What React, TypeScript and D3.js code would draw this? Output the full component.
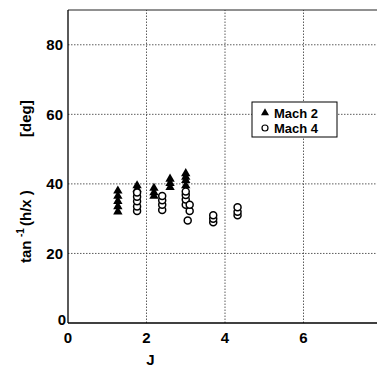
import React from "react";
import * as d3 from "d3";

const mach2J = [1.27, 1.27, 1.27, 1.27, 1.27, 1.76, 1.76, 2.19, 2.19, 2.19, 2.6, 2.6, 2.6, 3.0, 3.0, 3.0, 3.0];
const mach2V = [32, 33.5, 35, 36.5, 38, 38.5, 39.5, 36.5, 37.5, 38.8, 39, 40.2, 41.4, 39.5, 41, 42, 43];

const mach4J = [1.76, 1.76, 1.76, 1.76, 1.76, 2.4, 2.4, 2.4, 2.4, 3.0, 3.0, 3.0, 3.0, 3.1, 3.1, 3.05, 3.7, 3.7, 3.7, 4.32, 4.32, 4.32];
const mach4V = [32.2, 33.5, 35, 36.3, 37.5, 32.5, 34, 35.3, 36.5, 34, 35.5, 36.8, 37.8, 32.2, 34, 29.5, 29, 30, 31, 31, 32, 33.3];

const xTicks = [0, 2, 4, 6];
const yTicks = [0, 20, 40, 60, 80];
const legendLabels = ["Mach 2", "Mach 4"];

export default function App() {
  const W = 377, H = 370;
  const x = d3.scaleLinear().domain([0, 8]).range([68, 382]);
  const y = d3.scaleLinear().domain([0, 90]).range([323, 10]);
  const font = "'Liberation Sans', Arial, sans-serif";
  const tri = d3.symbol().type(d3.symbolTriangle).size(38)() as string;

  return (
    <svg width={W} height={H} style={{ position: "absolute", left: 0, top: 0, background: "#fff" }} fontFamily={font}>
      <rect width={W} height={H} fill="#fff" />
      {/* grid */}
      {xTicks.filter(t => t > 0).map(t => (
        <line key={"gx" + t} x1={x(t)} x2={x(t)} y1={y(0)} y2={y(90)} stroke="#333" strokeWidth={0.8} strokeDasharray="1.5,1.5" />
      ))}
      {yTicks.filter(t => t > 0).map(t => (
        <line key={"gy" + t} x1={x(0)} x2={x(8)} y1={y(t)} y2={y(t)} stroke="#333" strokeWidth={0.8} strokeDasharray="1.5,1.5" />
      ))}
      <line x1={x(0)} x2={x(8)} y1={y(90)} y2={y(90)} stroke="#222" strokeWidth={1} />
      {/* axes */}
      <line x1={x(0)} x2={x(0)} y1={y(0)} y2={y(90)} stroke="#000" strokeWidth={1.3} />
      <line x1={x(0)} x2={x(8)} y1={y(0)} y2={y(0)} stroke="#000" strokeWidth={1.3} />
      {/* tick labels */}
      {yTicks.map(t => (
        <text key={"ty" + t} x={t === 0 ? 66 : 63} y={y(t) + (t === 0 ? 2 : 5.5)} textAnchor="end" fontSize={15} fontWeight="bold">{t}</text>
      ))}
      {xTicks.map(t => (
        <text key={"tx" + t} x={x(t)} y={343} textAnchor="middle" fontSize={15} fontWeight="bold">{t}</text>
      ))}
      <text x={x(2.1)} y={365} textAnchor="middle" fontSize={15} fontWeight="bold">J</text>
      <g transform={`translate(31,263) rotate(-90)`} fontSize={15} fontWeight="bold">
        <text x={0} y={0}>tan</text>
        <text x={26} y={-7} fontSize={10}>-1</text>
        <text x={37} y={0}>(h/x )</text>
        <text x={126} y={0}>[deg]</text>
      </g>
      {/* points */}
      {mach2J.map((j, i) => (
        <path key={"m2" + i} d={tri} transform={`translate(${x(j)},${y(mach2V[i])})`} fill="#000" />
      ))}
      {mach4J.map((j, i) => (
        <circle key={"m4" + i} cx={x(j)} cy={y(mach4V[i])} r={3.5} fill="#fff" stroke="#000" strokeWidth={1.5} />
      ))}
      {/* legend */}
      <rect x={252} y={102} width={85} height={35} fill="#fff" stroke="#000" strokeWidth={1} />
      <path d={d3.symbol().type(d3.symbolTriangle).size(28)() as string} transform="translate(265,113)" fill="#000" />
      <circle cx={265} cy={128} r={3} fill="#fff" stroke="#000" strokeWidth={1.2} />
      <text x={274} y={118} fontSize={13} fontWeight="bold">{legendLabels[0]}</text>
      <text x={274} y={133} fontSize={13} fontWeight="bold">{legendLabels[1]}</text>
    </svg>
  );
}
